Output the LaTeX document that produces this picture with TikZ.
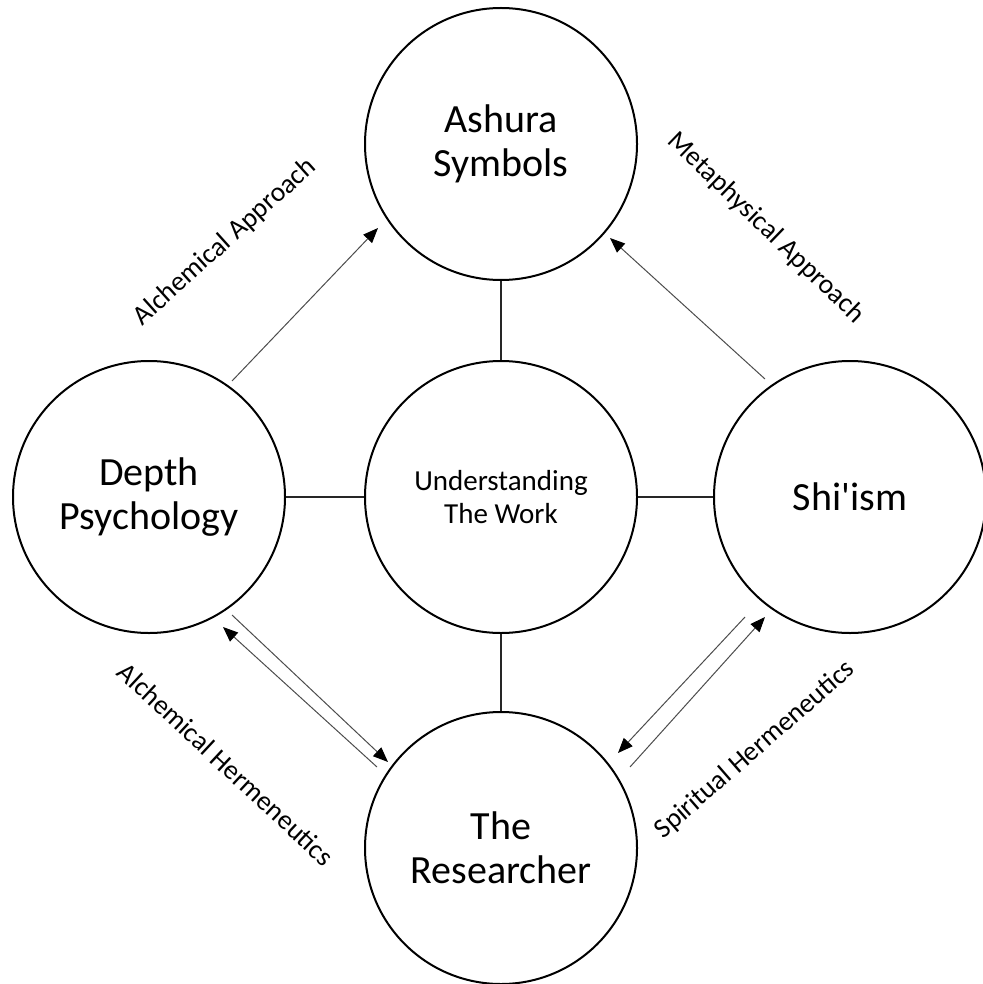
\documentclass[tikz,border=0pt]{standalone}
\usepackage{fontspec}
\setmainfont{Carlito}
\usetikzlibrary{arrows.meta,calc}
\begin{document}
\begin{tikzpicture}[x=1pt,y=-1pt,
  topic/.style={circle,draw=black,line width=2pt,minimum size=272pt,inner sep=0pt,
    align=center,font=\fontsize{40}{44}\selectfont},
  core/.style={topic,font=\fontsize{29}{33}\selectfont},
  link/.style={line width=1.6pt,black!85},
  flow/.style={line width=1pt,black!70,-{Triangle[length=15pt,width=12pt,color=black]}},
  tag/.style={inner sep=0pt,font=\fontsize{27.5}{30}\selectfont}
]
\useasboundingbox (0,0) rectangle (982,984);

% the five topics
\node[topic] (A) at (501,144) {Ashura\\Symbols};
\node[core]  (U) at (501,497) {Understanding\\The Work};
\node[topic] (D) at (149,497) {Depth\\Psychology};
\node[topic] (S) at (850,497) {Shi\textquotesingle ism};
\node[topic] (R) at (501,848) {The\\Researcher};

% spokes from the centre
\draw[link] (A) -- (U);
\draw[link] (D) -- (U);
\draw[link] (U) -- (S);
\draw[link] (U) -- (R);

% approaches towards the symbols
\draw[flow] ($(D)+(83,-116)$) -- ($(A)+(-123,84)$);
\draw[flow] ($(S)+(-85,-118)$) -- ($(A)+(109,94)$);

% hermeneutic exchanges with the researcher
\draw[flow] ($(D)+(83,118)$) -- ($(R)+(-113,-86)$);
\draw[flow] ($(R)+(-124,-81)$) -- ($(D)+(74,130)$);
\draw[flow] ($(S)+(-105,120)$) -- ($(R)+(117,-95)$);
\draw[flow] ($(R)+(129,-81)$) -- ($(S)+(-85,120)$);

% labels along the arrows
\node[tag,rotate=42]  (aa) at (225,242) {Alchemical Approach};
\node[tag,rotate=-44] (ma) at (766,228) {Metaphysical Approach};
\node[tag,rotate=-43] (ah) at (226,764) {Alchemical Hermeneutics};
\node[tag,rotate=41]  (sh) at (755,750) {Spiritual Hermeneutics};
\end{tikzpicture}
\end{document}
